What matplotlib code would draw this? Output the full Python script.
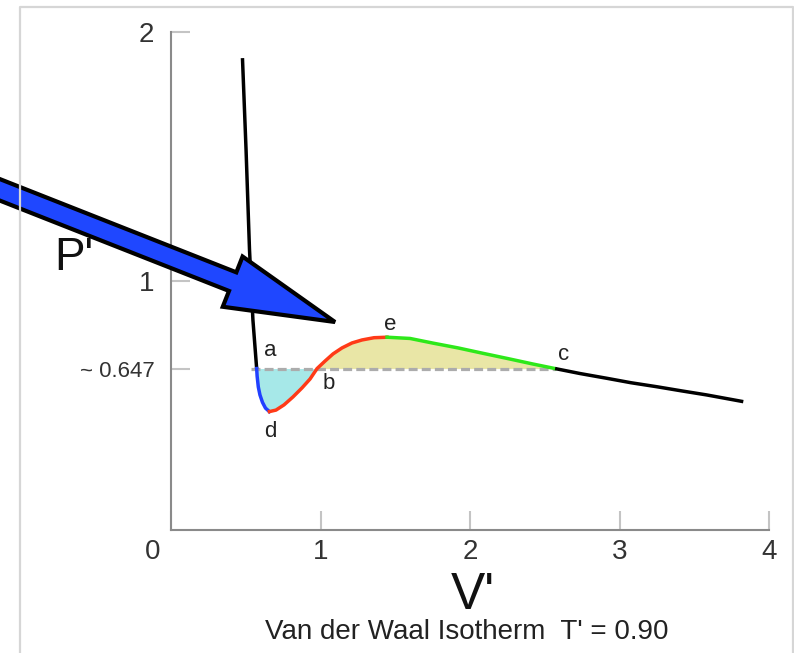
import matplotlib
matplotlib.use("Agg")
import matplotlib.pyplot as plt
from matplotlib.patches import FancyArrow
from matplotlib.transforms import ScaledTranslation

plt.rcParams['font.family'] = ['Liberation Sans', 'DejaVu Sans']

# reduced isotherm T' = 0.90, split into its coloured pieces
liquid_V = [0.478, 0.502, 0.525, 0.548, 0.573]
liquid_P = [1.895, 1.527, 1.126, 0.842, 0.647]

ad_V = [0.573, 0.576, 0.584, 0.595, 0.612, 0.632, 0.658]
ad_P = [0.647, 0.617, 0.573, 0.541, 0.511, 0.488, 0.474]

db_V = [0.658, 0.702, 0.756, 0.816, 0.876, 0.930, 0.977]
db_P = [0.474, 0.480, 0.501, 0.533, 0.569, 0.605, 0.647]

be_V = [0.977, 1.030, 1.084, 1.144, 1.211, 1.278, 1.358, 1.445]
be_P = [0.647, 0.677, 0.706, 0.730, 0.750, 0.762, 0.771, 0.773]

ec_V = [1.445, 1.599, 1.755, 1.920, 2.089, 2.254, 2.423, 2.569]
ec_P = [0.773, 0.768, 0.749, 0.730, 0.708, 0.687, 0.665, 0.647]

gas_V = [2.569, 2.736, 2.914, 3.077, 3.249, 3.418, 3.583, 3.828]
gas_P = [0.647, 0.627, 0.608, 0.590, 0.574, 0.557, 0.541, 0.514]

p_maxwell = 0.647
dash_start = 0.535

points = {'a': (ad_V[0], ad_P[0]), 'b': (db_V[-1], db_P[-1]), 'c': (ec_V[-1], ec_P[-1]),
          'd': (ad_V[-1], ad_P[-1]), 'e': (ec_V[0], ec_P[0])}
label_offsets = {'a': (9.6, 13), 'b': (8.1, -10.8), 'c': (6.5, 10), 'd': (0.5, -14.4), 'e': (2, 8.9)}

xticks = [0, 1, 2, 3, 4]
yticks = [p_maxwell, 1, 2]
ytick_labels = ['~ 0.647', '1', '2']

fig = plt.figure(figsize=(7.94, 6.53), dpi=100)
ax = fig.add_axes([171 / 794, 1 - 529.5 / 653, 598 / 794, 497.5 / 653])
ax.set_xlim(0, 4)
ax.set_ylim(0, 2)

lw = 2.5
ax.fill_between(ad_V + db_V[1:], ad_P + db_P[1:], p_maxwell, color='#a6e8e8', lw=0, zorder=1)
ax.fill_between(be_V + ec_V[1:], be_P + ec_P[1:], p_maxwell, color='#e9e6a6', lw=0, zorder=1)
ax.hlines(p_maxwell, dash_start, ec_V[-1], colors='#acacac', lw=2.3,
          linestyles=(0, (2.8, 1.3)), zorder=2)

ax.plot(liquid_V, liquid_P, color='black', lw=lw, zorder=3, solid_capstyle='butt')
ax.plot(ad_V, ad_P, color='#2140ff', lw=lw, zorder=3)
ax.plot(db_V + be_V[1:], db_P + be_P[1:], color='#ff3a17', lw=lw, zorder=3)
ax.plot(ec_V, ec_P, color='#2ee81a', lw=lw, zorder=3)
ax.plot(gas_V, gas_P, color='black', lw=lw, zorder=3, solid_capstyle='butt')

for name, xy in points.items():
    ax.annotate(name, xy, xytext=label_offsets[name], textcoords='offset points',
                ha='center', va='center', fontsize=16, color='#222222')

# axes styling
for side in ('top', 'right'):
    ax.spines[side].set_visible(False)
for side in ('left', 'bottom'):
    ax.spines[side].set_color('#8a8a8a')
    ax.spines[side].set_linewidth(1.5)

ax.set_xticks(xticks, labels=[str(t) for t in xticks])
ax.set_yticks(yticks, labels=ytick_labels)
ax.tick_params(axis='both', direction='in', length=13.7, width=1.5, color='#c4c4c4',
               labelcolor='#333333')
ax.tick_params(axis='x', labelsize=20, pad=7)
ax.tick_params(axis='y', labelsize=20, pad=12)
ax.get_yticklabels()[0].set_fontsize(16)
ax.xaxis.get_major_ticks()[-1].tick1line.set_color('#8a8a8a')
zero_lbl = ax.get_xticklabels()[0]
zero_lbl.set_transform(zero_lbl.get_transform() + ScaledTranslation(-0.18, 0, fig.dpi_scale_trans))

ax.set_xlabel("V'", fontsize=37, color='#111111')
ax.xaxis.set_label_coords(0.505, -0.132)
ax.xaxis.label.set_va('center')
ax.set_ylabel("P'", fontsize=33, rotation=0, color='#111111')
ax.yaxis.set_label_coords(-0.162, 0.545)
ax.yaxis.label.set_va('center')
ax.yaxis.label.set_ha('center')

fig.text(467 / 794, 1 - 632 / 653, "Van der Waal Isotherm  T' = 0.90",
         ha='center', va='center', fontsize=20, color='#222222')

# overlay in pixel units: page frame and pointer arrow
over = fig.add_axes([0, 0, 1, 1], zorder=5)
over.set_xlim(0, 794)
over.set_ylim(653, 0)
over.axis('off')
over.plot([20, 20, 793, 793], [653, 7, 7, 653], color='#d6d6d6', lw=1.6)
over.add_patch(FancyArrow(-20, 182, 355, 140, width=20, head_width=54, head_length=110,
                          length_includes_head=True, facecolor='#1f47ff',
                          edgecolor='black', lw=3, joinstyle='miter'))

fig.savefig('out.png', dpi=100)
